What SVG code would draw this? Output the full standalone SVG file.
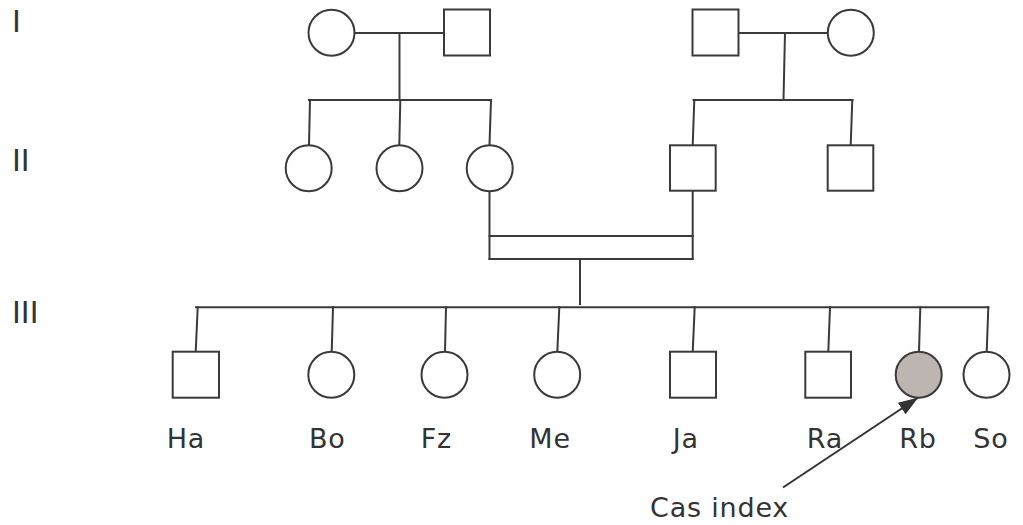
<svg xmlns="http://www.w3.org/2000/svg" width="1023" height="525" viewBox="0 0 1023 525">
  <style>
    .ln { stroke: #3a3a3a; stroke-width: 2; fill: none; stroke-linecap: square; }
    .nd { stroke: #3a3a3a; stroke-width: 2; fill: #ffffff; }
    .aff { fill: #bdb5b2; }
    .lbl { font-family: "DejaVu Sans", sans-serif; font-size: 27px; letter-spacing: 0.8px; fill: #333333; }
    .gen { font-family: "DejaVu Sans", sans-serif; font-size: 30px; fill: #333333; }
  </style>
  <defs>
    <marker id="head" viewBox="0 0 20 14" refX="20" refY="7" markerWidth="20" markerHeight="14" markerUnits="userSpaceOnUse" orient="auto">
      <path d="M0,0 L20,7 L0,14 z" fill="#333333"/>
    </marker>
  </defs>

  <!-- generation numerals -->
  <g id="generations">
    <text class="gen" x="12" y="32">I</text>
    <text class="gen" x="12" y="171">II</text>
    <text class="gen" x="12" y="323">III</text>
  </g>

  <!-- lines of descent and marriage -->
  <g id="connectors">
    <!-- generation I, left couple -->
    <line class="ln" x1="355" y1="33" x2="444" y2="33"/>
    <line class="ln" x1="399.5" y1="33" x2="399.5" y2="100"/>
    <line class="ln" x1="309" y1="100" x2="491" y2="100"/>
    <line class="ln" x1="310" y1="100" x2="309" y2="145"/>
    <line class="ln" x1="400.3" y1="100" x2="399.3" y2="145"/>
    <line class="ln" x1="491" y1="100" x2="489.5" y2="145"/>
    <!-- generation I, right couple -->
    <line class="ln" x1="738" y1="33" x2="828" y2="33"/>
    <line class="ln" x1="785" y1="33" x2="783.5" y2="100"/>
    <line class="ln" x1="693.5" y1="100" x2="852.5" y2="100"/>
    <line class="ln" x1="694.3" y1="100" x2="692.7" y2="145"/>
    <line class="ln" x1="852.3" y1="100" x2="850.7" y2="145"/>
    <!-- generation II marriage -->
    <line class="ln" x1="489.5" y1="191" x2="489.5" y2="259"/>
    <line class="ln" x1="692.7" y1="191" x2="692.7" y2="259"/>
    <line class="ln" x1="489.5" y1="236" x2="692.7" y2="236"/>
    <line class="ln" x1="489.5" y1="259" x2="692.7" y2="259"/>
    <line class="ln" x1="580" y1="259" x2="580" y2="304"/>
    <!-- generation III sibship -->
    <line class="ln" x1="196" y1="307.3" x2="988.3" y2="307.3"/>
    <line class="ln" x1="197.7" y1="307.3" x2="195.7" y2="352"/>
    <line class="ln" x1="333" y1="307.3" x2="331.7" y2="352"/>
    <line class="ln" x1="446" y1="307.3" x2="445" y2="352"/>
    <line class="ln" x1="559.3" y1="307.3" x2="557.3" y2="352"/>
    <line class="ln" x1="694.7" y1="307.3" x2="692.7" y2="352"/>
    <line class="ln" x1="830" y1="307.3" x2="828.3" y2="352"/>
    <line class="ln" x1="920.3" y1="307.3" x2="919" y2="352"/>
    <line class="ln" x1="988.3" y1="307.3" x2="986.7" y2="352"/>
    <!-- proband pointer -->
    <line x1="783" y1="487.5" x2="918.3" y2="397.5" stroke="#333333" stroke-width="2" marker-end="url(#head)"/>
  </g>

  <!-- generation I -->
  <g id="I-1"><circle class="nd" cx="331.5" cy="32.7" r="23"/></g>
  <g id="I-2"><rect class="nd" x="444" y="9.5" width="46" height="46"/></g>
  <g id="I-3"><rect class="nd" x="692.5" y="9.5" width="46" height="46"/></g>
  <g id="I-4"><circle class="nd" cx="850.8" cy="32.7" r="23"/></g>

  <!-- generation II -->
  <g id="II-1"><circle class="nd" cx="308.7" cy="168.3" r="23"/></g>
  <g id="II-2"><circle class="nd" cx="399.5" cy="168.3" r="23"/></g>
  <g id="II-3"><circle class="nd" cx="489.7" cy="168.3" r="23"/></g>
  <g id="II-4"><rect class="nd" x="670" y="145.3" width="45.7" height="45.4"/></g>
  <g id="II-5"><rect class="nd" x="827.7" y="145.3" width="45.6" height="45.4"/></g>

  <!-- generation III -->
  <g id="III-Ha">
    <rect class="nd" x="172.7" y="351.7" width="46.3" height="46"/>
    <text class="lbl" x="166.7" y="448.3">Ha</text>
  </g>
  <g id="III-Bo">
    <circle class="nd" cx="331.3" cy="374.7" r="23"/>
    <text class="lbl" x="309" y="448.3">Bo</text>
  </g>
  <g id="III-Fz">
    <circle class="nd" cx="444.5" cy="374.7" r="23"/>
    <text class="lbl" x="420.7" y="448.3">Fz</text>
  </g>
  <g id="III-Me">
    <circle class="nd" cx="557.2" cy="374.7" r="23"/>
    <text class="lbl" x="529.3" y="448.3">Me</text>
  </g>
  <g id="III-Ja">
    <rect class="nd" x="670" y="351.7" width="46" height="46"/>
    <text class="lbl" x="672.7" y="448.3">Ja</text>
  </g>
  <g id="III-Ra">
    <rect class="nd" x="805.3" y="351.7" width="45.7" height="46"/>
    <text class="lbl" x="806.7" y="448.3">Ra</text>
  </g>
  <g id="III-Rb">
    <circle class="nd aff" cx="918.7" cy="374.7" r="23"/>
    <text class="lbl" x="899.3" y="448.3">Rb</text>
  </g>
  <g id="III-So">
    <circle class="nd" cx="986.5" cy="374.7" r="23"/>
    <text class="lbl" x="973.3" y="448.3">So</text>
  </g>

  <!-- proband caption -->
  <g id="proband-label">
    <text class="lbl" x="650" y="517">Cas index</text>
  </g>
</svg>
